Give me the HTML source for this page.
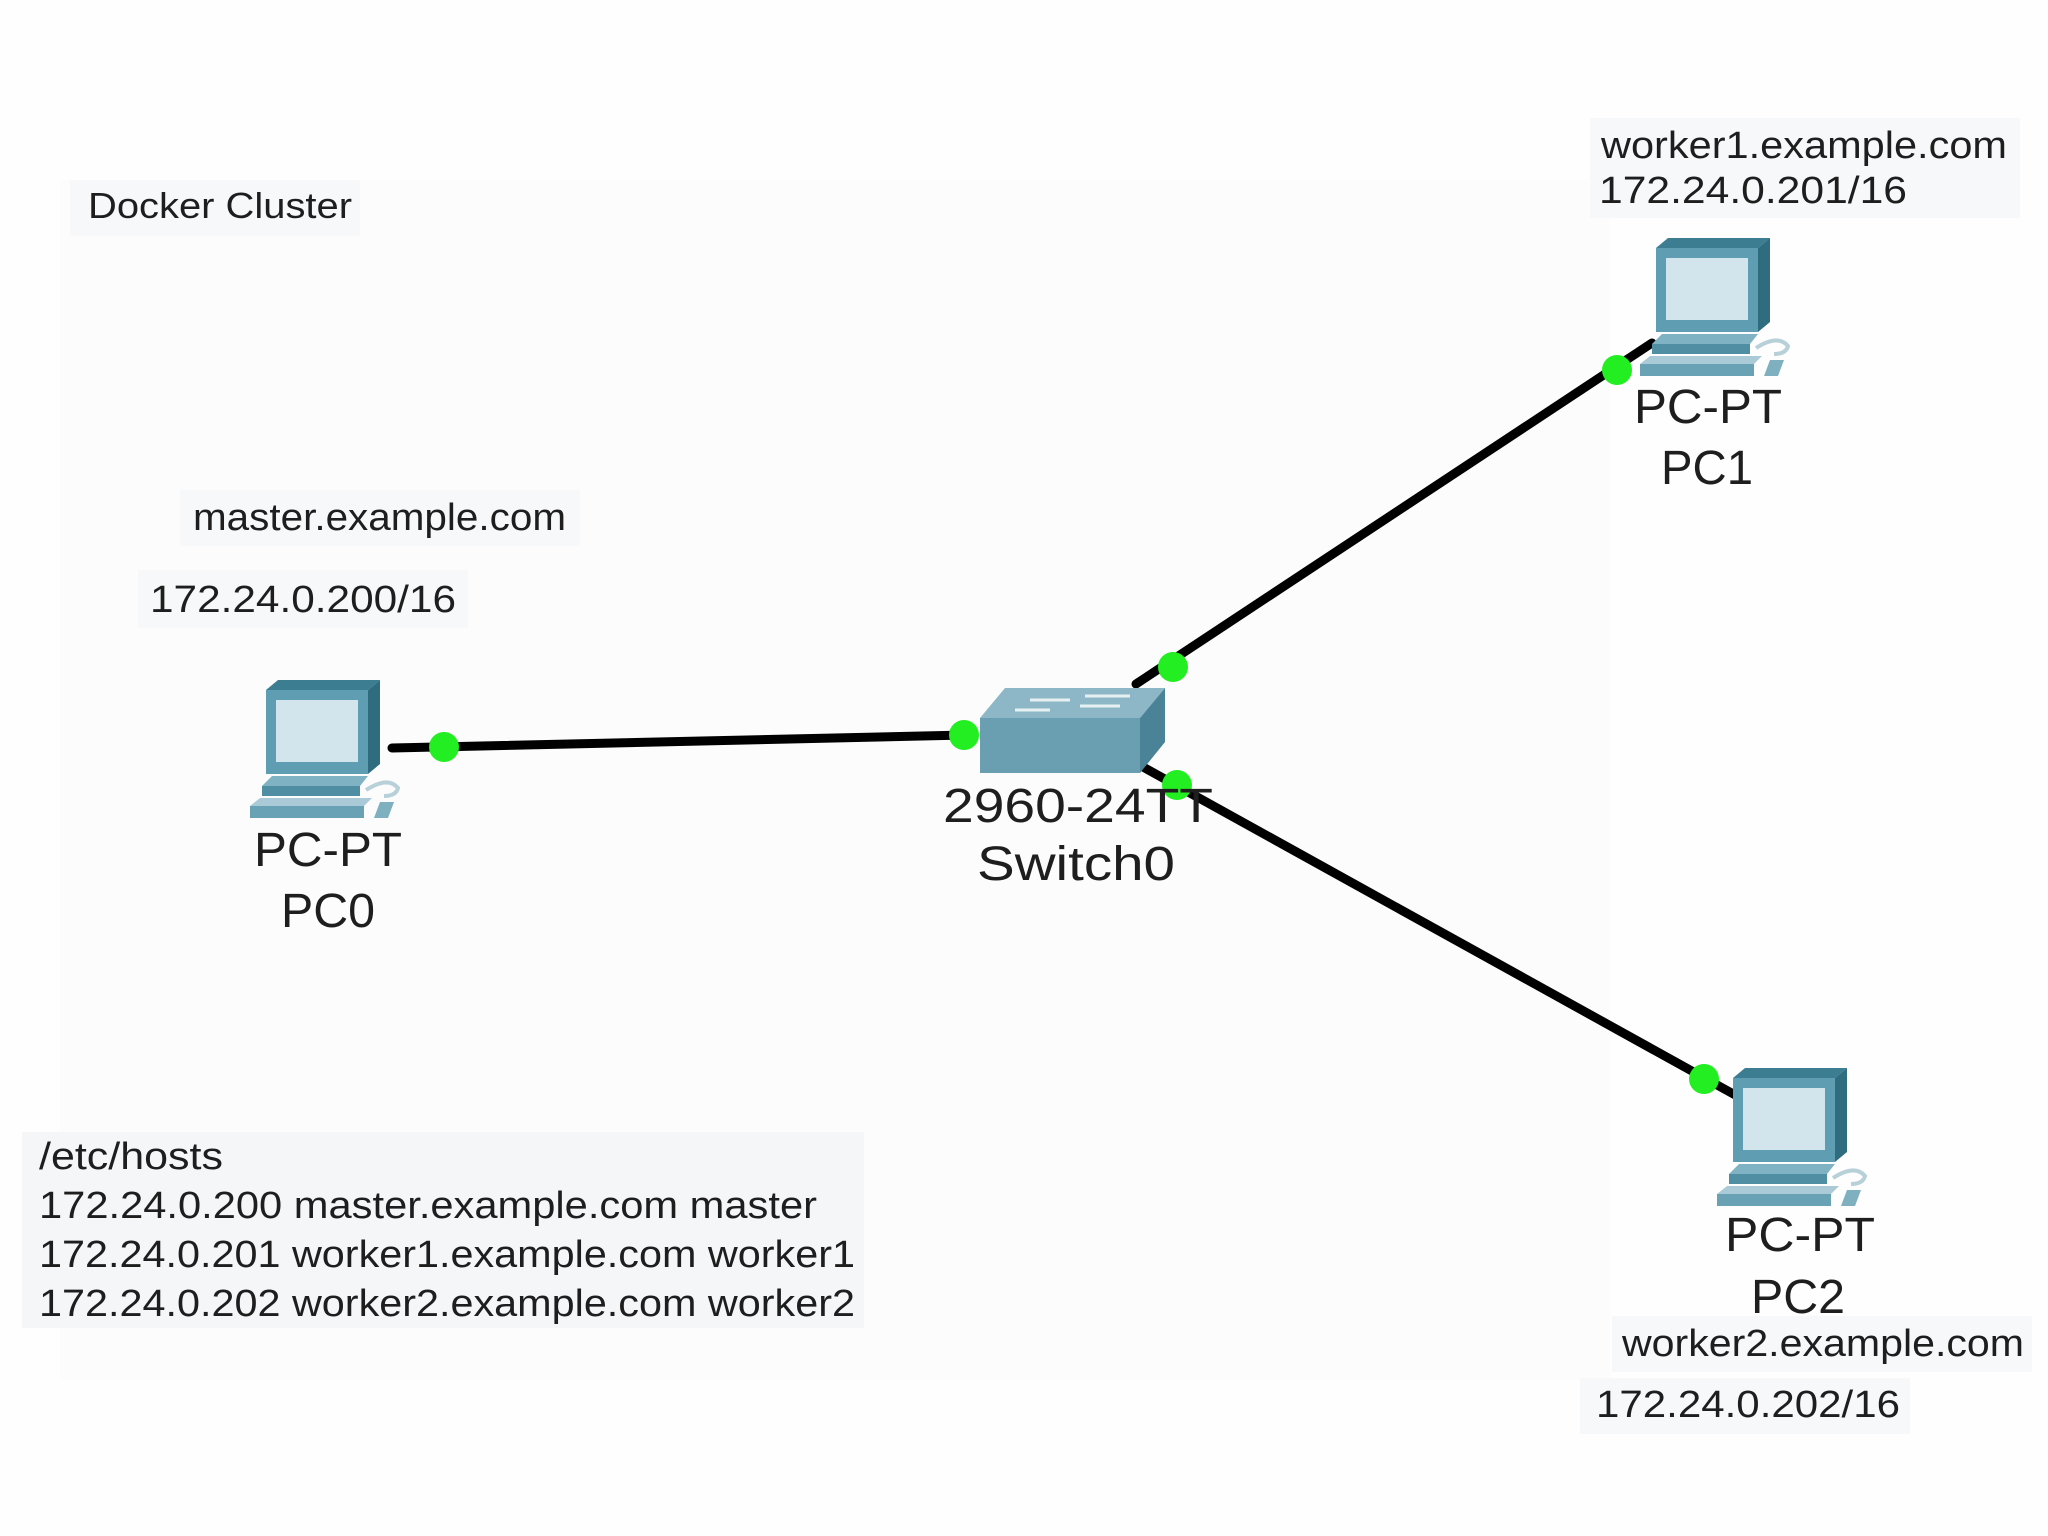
<!DOCTYPE html>
<html><head><meta charset="utf-8"><style>
html,body{margin:0;padding:0;background:#fff;}
svg{display:block;}
text{font-family:"Liberation Sans",sans-serif;fill:#1e1e1e;}
</style></head><body>
<svg width="2048" height="1536" viewBox="0 0 2048 1536" xmlns="http://www.w3.org/2000/svg">
<defs>
<g id="pc">
  <polygon points="18,10 30,0 132,0 120,10" fill="#3d7d92"/>
  <polygon points="120,10 132,0 132,84 120,94" fill="#2f6c80"/>
  <rect x="18" y="10" width="102" height="84" fill="#5e9db2"/>
  <rect x="28" y="20" width="82" height="62" fill="#d3e5ec"/>
  <polygon points="14,106 24,96 120,96 112,106" fill="#7fb2c3"/>
  <rect x="14" y="106" width="98" height="10" fill="#4f8ea3"/>
  <polygon points="2,126 12,118 124,118 116,126" fill="#a9cad6"/>
  <rect x="2" y="126" width="114" height="12" fill="#6aa2b5"/>
  <path d="M118,110 Q140,96 150,108 Q148,116 136,116" stroke="#b8d0d8" stroke-width="4" fill="none"/>
  <polygon points="126,138 132,122 146,122 140,138" fill="#7eb0c0"/>
</g>
</defs>
<rect width="2048" height="1536" fill="#fefefe"/>
<rect x="60" y="180" width="1550" height="1200" fill="#fcfcfc"/>

<rect x="70" y="180" width="290" height="56" fill="#f7f8f9"/>
<rect x="1590" y="118" width="430" height="100" fill="#f7f8f9"/>
<rect x="180" y="490" width="400" height="56" fill="#f7f8f9"/>
<rect x="138" y="570" width="330" height="58" fill="#f7f8f9"/>
<rect x="22" y="1132" width="842" height="196" fill="#f5f6f8"/>
<rect x="1612" y="1316" width="420" height="56" fill="#f7f8f9"/>
<rect x="1580" y="1378" width="330" height="56" fill="#f7f8f9"/>

<g stroke="#000" stroke-width="9" stroke-linecap="round">
  <line x1="392" y1="748" x2="966" y2="735"/>
  <line x1="1136" y1="684" x2="1652" y2="343"/>
  <line x1="1134" y1="762" x2="1737" y2="1096"/>
</g>

<use href="#pc" transform="translate(248,680)"/>
<use href="#pc" transform="translate(1638,238)"/>
<use href="#pc" transform="translate(1715,1068)"/>

<polygon points="1005,688 1165,688 1140,718 980,718" fill="#8db7c6"/>
<polygon points="980,718 1140,718 1140,773 980,773" fill="#6a9fb1"/>
<polygon points="1140,718 1165,688 1165,742 1140,773" fill="#4a8397"/>
<g stroke="#e6f0f3" stroke-width="3">
  <line x1="1030" y1="700" x2="1070" y2="700"/>
  <line x1="1080" y1="706" x2="1120" y2="706"/>
  <line x1="1015" y1="710" x2="1050" y2="710"/>
  <line x1="1085" y1="696" x2="1130" y2="696"/>
</g>

<g fill="#22ee22">
  <circle cx="444" cy="747" r="15"/>
  <circle cx="964" cy="735" r="15"/>
  <circle cx="1173" cy="667" r="15"/>
  <circle cx="1617" cy="370" r="15"/>
  <circle cx="1177" cy="785" r="15"/>
  <circle cx="1704" cy="1079" r="15"/>
</g>

<text x="88" y="218" font-size="36" textLength="264" lengthAdjust="spacingAndGlyphs">Docker Cluster</text>
<text x="1601" y="158" font-size="38" textLength="406" lengthAdjust="spacingAndGlyphs">worker1.example.com</text>
<text x="1599" y="203" font-size="38" textLength="308" lengthAdjust="spacingAndGlyphs">172.24.0.201/16</text>
<text x="193" y="530" font-size="38" textLength="373" lengthAdjust="spacingAndGlyphs">master.example.com</text>
<text x="150" y="612" font-size="38" textLength="306" lengthAdjust="spacingAndGlyphs">172.24.0.200/16</text>

<g font-size="48">
<text x="254" y="866" textLength="148" lengthAdjust="spacingAndGlyphs">PC-PT</text>
<text x="281" y="927" textLength="94" lengthAdjust="spacingAndGlyphs">PC0</text>
<text x="943" y="822" textLength="270" lengthAdjust="spacingAndGlyphs">2960-24TT</text>
<text x="977" y="880" textLength="198" lengthAdjust="spacingAndGlyphs">Switch0</text>
<text x="1634" y="423" textLength="148" lengthAdjust="spacingAndGlyphs">PC-PT</text>
<text x="1661" y="484" textLength="92" lengthAdjust="spacingAndGlyphs">PC1</text>
<text x="1725" y="1251" textLength="150" lengthAdjust="spacingAndGlyphs">PC-PT</text>
<text x="1751" y="1313" textLength="94" lengthAdjust="spacingAndGlyphs">PC2</text>
</g>

<text x="1622" y="1356" font-size="38" textLength="402" lengthAdjust="spacingAndGlyphs">worker2.example.com</text>
<text x="1596" y="1417" font-size="38" textLength="304" lengthAdjust="spacingAndGlyphs">172.24.0.202/16</text>

<g font-size="38">
<text x="39" y="1169" textLength="184" lengthAdjust="spacingAndGlyphs">/etc/hosts</text>
<text x="39" y="1218" textLength="778" lengthAdjust="spacingAndGlyphs">172.24.0.200  master.example.com master</text>
<text x="39" y="1267" textLength="816" lengthAdjust="spacingAndGlyphs">172.24.0.201 worker1.example.com worker1</text>
<text x="39" y="1316" textLength="816" lengthAdjust="spacingAndGlyphs">172.24.0.202 worker2.example.com worker2</text>
</g>
</svg>
</body></html>
